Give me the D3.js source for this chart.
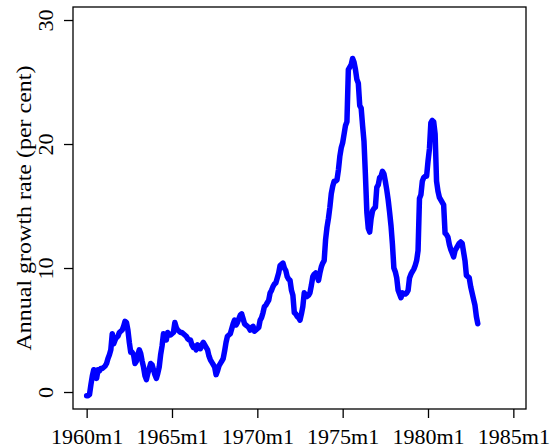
<!DOCTYPE html>
<html>
<head>
<meta charset="utf-8">
<script src="https://cdn.jsdelivr.net/npm/d3@7"></script>
<style>
  html, body { margin: 0; padding: 0; background: #fff; }
  svg text { font-family: "Liberation Serif", "Times New Roman", serif; fill: #000; }
</style>
</head>
<body>
<svg id="chart" width="557" height="448"></svg>
<script>
// Monthly series starting 1960m1 (annual growth rate, per cent)
const startYear = 1960;
const values = [
  -0.3,-0.3,-0.2,0.6,1.3,1.8,1.7,1.1,1.8,1.7,1.9,1.9,
  2.0,2.1,2.3,2.7,3.0,3.4,4.7,3.9,4.2,4.4,4.5,4.8,
  4.9,5.0,5.3,5.7,5.6,5.0,4.0,3.2,3.2,3.0,2.3,2.5,
  3.0,3.4,3.1,2.5,2.0,1.3,1.0,1.5,1.9,2.3,2.2,1.8,
  1.4,1.1,1.5,2.0,3.0,3.7,4.7,4.3,4.2,4.8,4.6,4.6,
  4.7,4.8,5.6,5.2,5.0,4.9,4.8,4.8,4.7,4.6,4.5,4.3,
  4.2,4.2,3.8,3.6,3.7,3.4,3.8,3.6,3.5,3.8,4.0,3.8,
  3.6,3.4,2.9,2.6,2.4,2.2,2.0,1.4,1.7,2.1,2.3,2.5,
  2.7,3.3,4.0,4.5,4.6,4.7,5.1,5.5,5.8,5.4,5.6,5.9,
  6.2,6.3,5.9,5.5,5.4,5.3,5.2,5.0,5.2,5.3,4.9,5.0,
  5.1,5.2,5.8,6.0,6.4,6.9,7.0,7.2,7.4,8.0,8.2,8.5,
  8.7,8.8,9.2,9.6,10.2,10.3,10.4,10.0,9.8,9.3,9.1,9.0,
  8.2,7.8,6.4,6.3,6.1,6.0,5.8,6.3,6.9,8.0,7.8,7.7,
  7.8,8.0,8.6,9.3,9.5,9.6,9.4,9.0,9.6,10.1,10.4,10.6,
  12.3,13.3,14.0,14.9,16.0,16.6,17.0,17.0,17.1,17.9,19.0,19.7,
  20.1,20.8,21.5,21.8,26.0,26.2,26.4,26.9,26.6,26.0,25.2,24.9,
  23.1,22.9,21.5,20.2,17.5,14.5,13.2,12.9,14.0,14.6,14.8,14.9,
  16.5,16.7,17.3,17.4,17.8,17.6,17.0,16.3,15.5,14.5,13.4,11.9,
  10.0,9.7,9.2,8.2,7.9,7.6,8.0,7.9,7.9,8.0,8.2,9.2,
  9.5,9.7,9.9,10.2,10.6,11.4,15.6,15.9,17.0,17.3,17.4,17.4,
  18.6,19.6,21.7,21.9,21.8,20.8,17.0,16.2,15.7,15.5,15.3,15.1,
  12.8,12.7,12.5,11.9,11.5,11.2,10.9,11.4,11.6,11.8,12.0,12.1,
  12.0,11.3,10.6,9.4,9.3,9.2,8.5,8.0,7.5,7.0,6.1,5.5
];
const xTickYears = [1960, 1965, 1970, 1975, 1980, 1985];
const yTicks = [0, 10, 20, 30];
const yTitle = "Annual growth rate (per cent)";

const data = values.map((v, i) => ({ m: i, v: v }));

const svg = d3.select("#chart");
const plot = { left: 73, right: 526, top: 7, bottom: 409 };

const x = d3.scaleLinear().domain([-9.6, 308.9]).range([plot.left, plot.right]);
const y = d3.scaleLinear().domain([-1.37, 31.05]).range([plot.bottom, plot.top]);

// frame
svg.append("rect")
  .attr("x", plot.left).attr("y", plot.top)
  .attr("width", plot.right - plot.left).attr("height", plot.bottom - plot.top)
  .attr("fill", "none").attr("stroke", "#000").attr("stroke-width", 1.3);

// x axis
const xAxis = d3.axisBottom(x)
  .tickValues(xTickYears.map(yr => (yr - startYear) * 12))
  .tickFormat(m => (startYear + Math.round(m / 12)) + "m1")
  .tickSize(9).tickSizeOuter(0).tickPadding(6);
const gx = svg.append("g").attr("transform", `translate(0,${plot.bottom})`).call(xAxis);
gx.select(".domain").remove();
gx.selectAll(".tick line").attr("stroke", "#000").attr("stroke-width", 1.3);
gx.selectAll(".tick text").attr("font-size", 22).attr("font-family", "Liberation Serif").attr("dy", "0.9em");

// y axis
const yAxis = d3.axisLeft(y).tickValues(yTicks).tickSize(9).tickSizeOuter(0);
const gy = svg.append("g").attr("transform", `translate(${plot.left},0)`).call(yAxis);
gy.select(".domain").remove();
gy.selectAll(".tick line").attr("stroke", "#000").attr("stroke-width", 1.3);
gy.selectAll(".tick text")
  .attr("font-size", 22).attr("font-family", "Liberation Serif")
  .attr("text-anchor", "middle")
  .attr("x", null).attr("dy", null)
  .attr("transform", "translate(-20,0) rotate(-90)");

// y title
svg.append("text")
  .attr("transform", `translate(31,${(plot.top + plot.bottom) / 2}) rotate(-90)`)
  .attr("text-anchor", "middle")
  .attr("font-size", 22)
  .attr("textLength", 285)
  .attr("lengthAdjust", "spacingAndGlyphs")
  .text(yTitle);

// line
const line = d3.line().x(d => x(d.m)).y(d => y(d.v));
svg.append("path").datum(data)
  .attr("d", line)
  .attr("fill", "none")
  .attr("stroke", "#0000ff")
  .attr("stroke-width", 5.5)
  .attr("stroke-linejoin", "round")
  .attr("stroke-linecap", "round");
</script>
</body>
</html>
